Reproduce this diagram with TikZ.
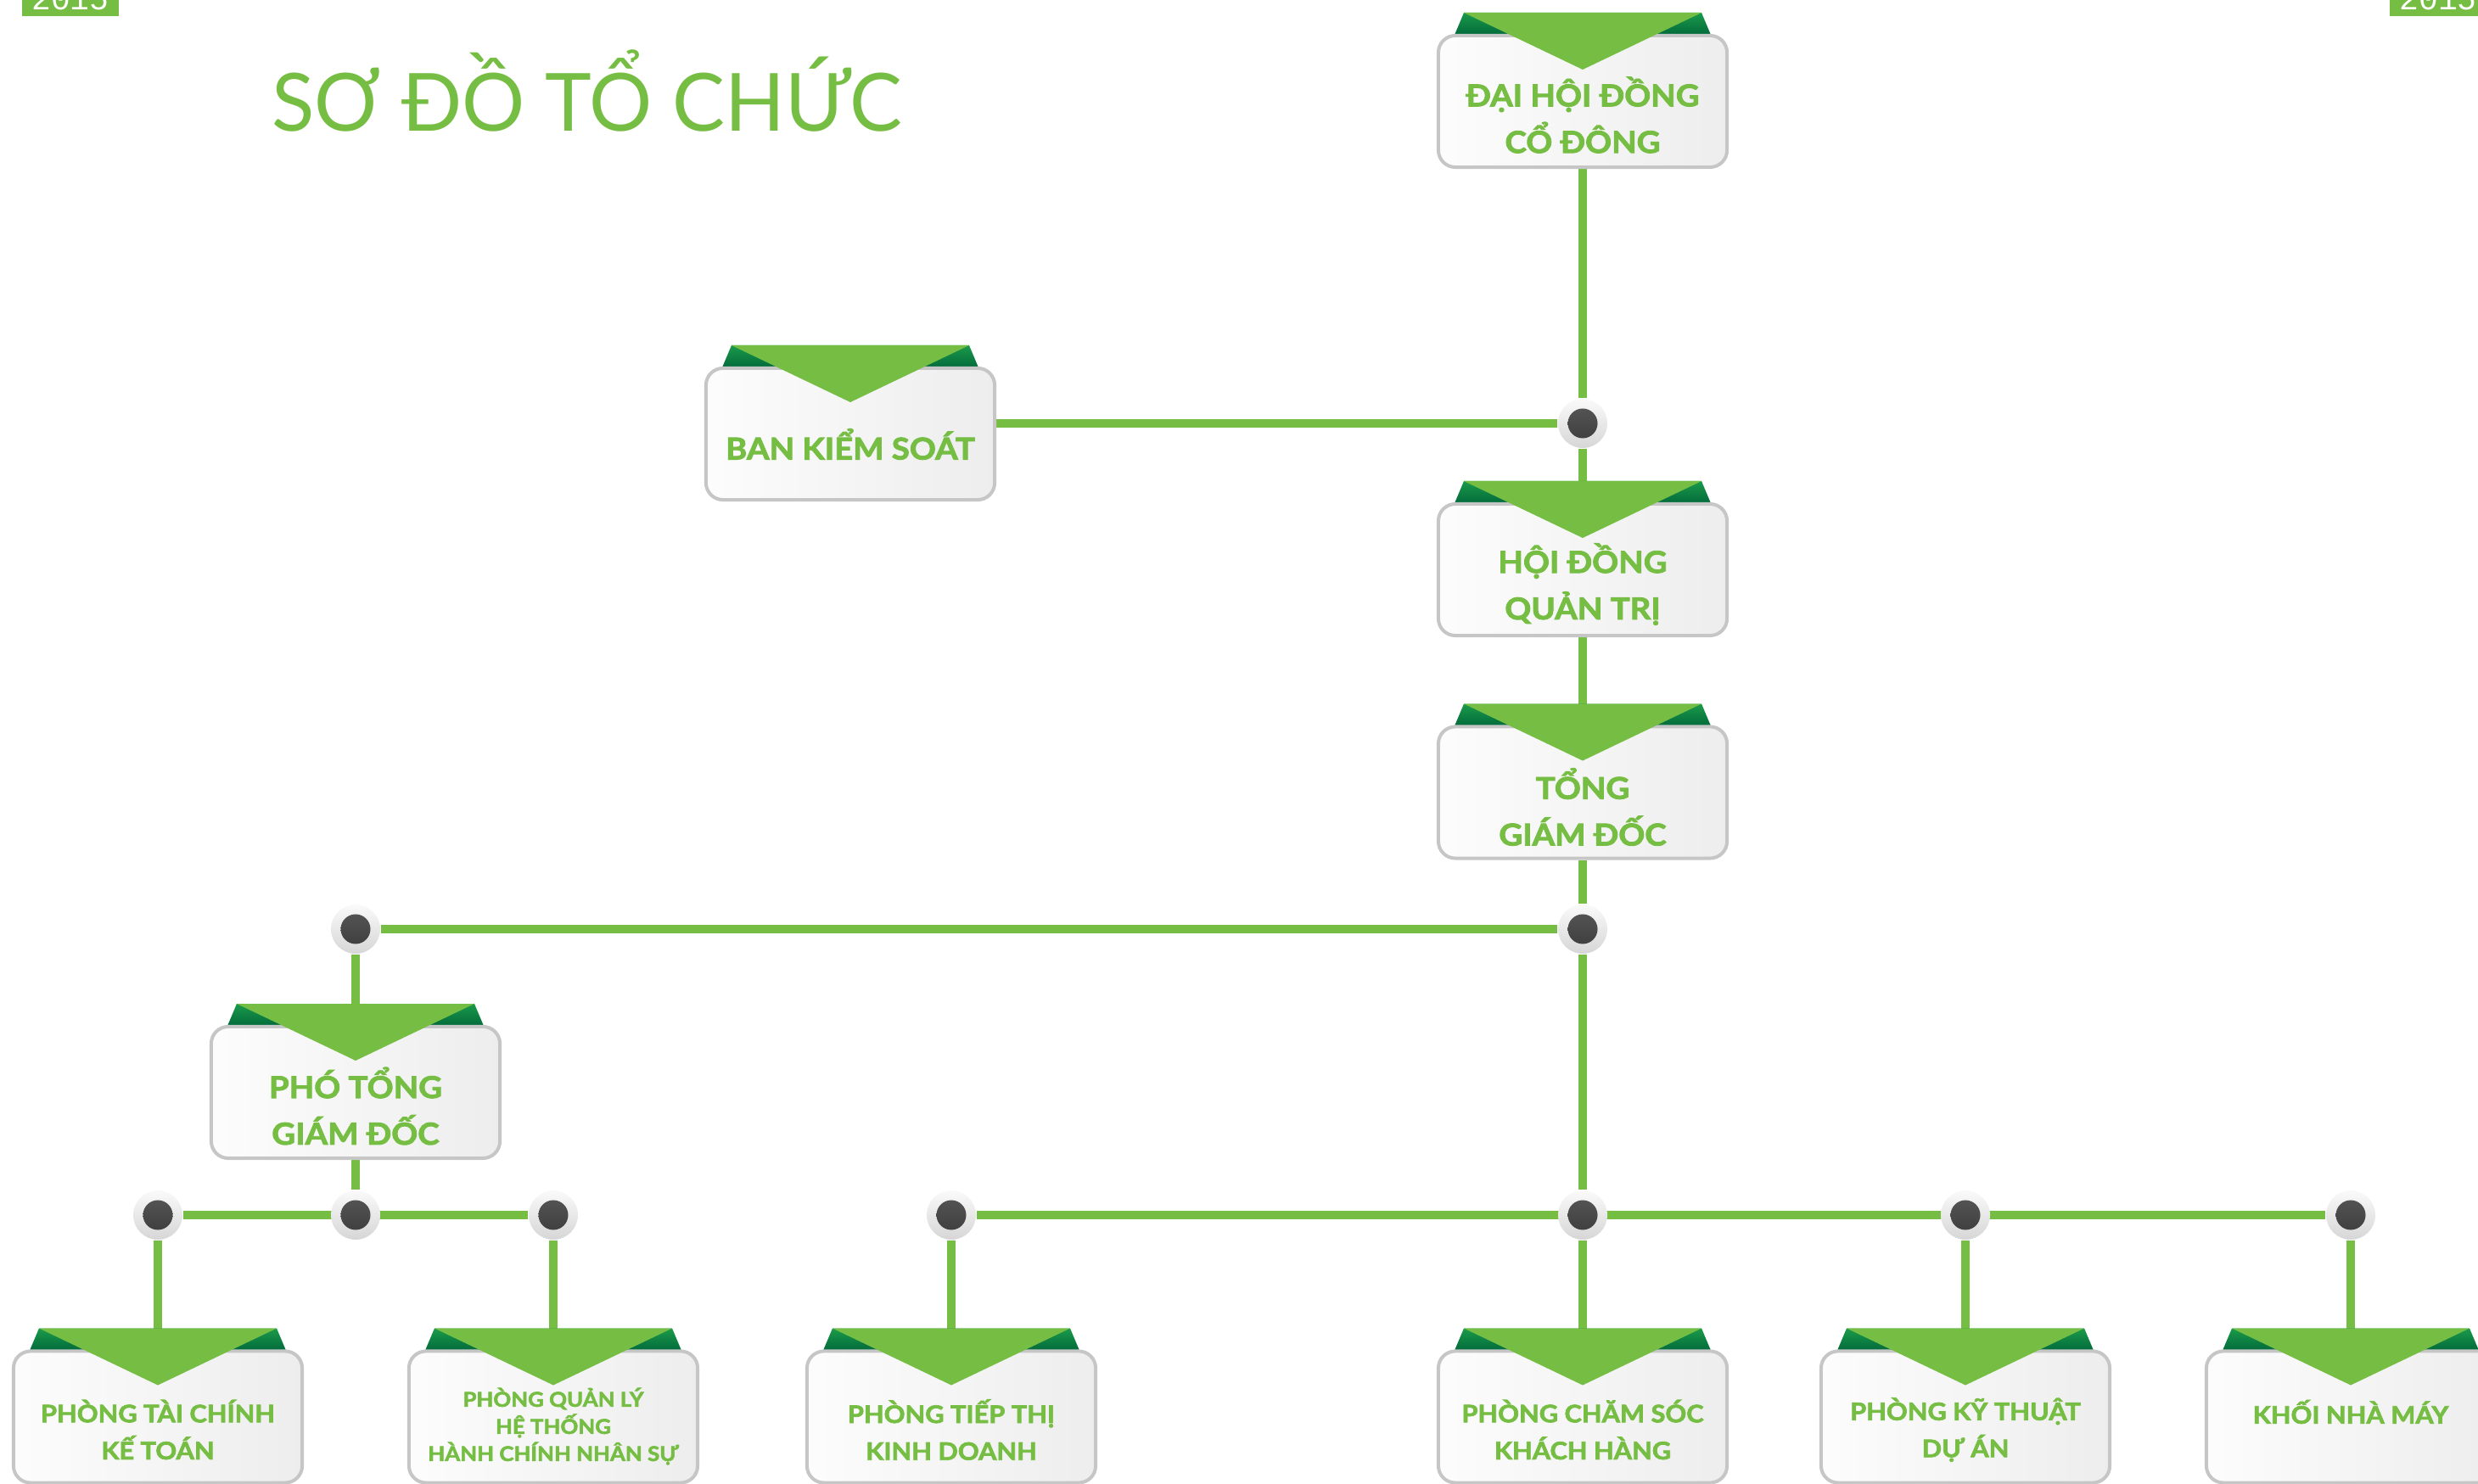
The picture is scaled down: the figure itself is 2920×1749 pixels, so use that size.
\documentclass[tikz,border=0pt]{standalone}
\usepackage{fontspec}
\setmainfont{Lato}
\newfontfamily\titlefont{Lato}[FakeStretch=0.98]
\newfontfamily\cardfont{Lato}[FakeStretch=1.08, BoldFeatures={FakeBold=2.5}]
\newfontfamily\yearfont{Liberation Mono}
\usetikzlibrary{backgrounds}

\definecolor{cardgreen}{HTML}{76BE43}
\definecolor{flaptop}{HTML}{1B9A4A}
\definecolor{flapbot}{HTML}{00663A}

\tikzset{
	card/.style={draw=gray!45, line width=0.04cm, rounded corners=0.2cm,
		left color=gray!2, right color=gray!14, minimum width=3.4cm, minimum height=1.55cm},
	cardtext/.style={font=\cardfont\bfseries\fontsize{10.1}{15.6}\selectfont, text=cardgreen, align=center, inner sep=0pt},
	lowtext/.style={cardtext, font=\cardfont\bfseries\fontsize{8.1}{12.4}\selectfont},
	tinytext/.style={cardtext, font=\cardfont\bfseries\fontsize{6.8}{9.1}\selectfont},
	link/.style={draw=cardgreen, line width=0.1cm},
	junction/.style={circle, minimum size=0.58cm, inner sep=0pt, top color=gray!4, bottom color=gray!32,
		path picture={\shade[top color=gray!70!black, bottom color=gray!45!black] (path picture bounding box.center) circle (0.175cm);}},
	yeartag/.style={fill=cardgreen, text=white, font=\yearfont\fontsize{10.8}{12}\selectfont,
		minimum width=1.14cm, inner xsep=0pt, inner ysep=0.07cm, anchor=south}
}

% style, name, x, y, text shift, text
\newcommand{\card}[6][cardtext]{%
	\shade[top color=flaptop, bottom color=flapbot, shift={(#3,#4)}] (-152,-76) -- (-140,-104.5) -- (140,-104.5) -- (152,-76) -- cycle;
	\node[card] (#2) at (#3,#4) {};
	\fill[cardgreen, shift={(#3,#4)}] (-140,-104.5) -- (140,-104.5) -- (0,-37.5) -- cycle;
	\node[#1] (#2-t) at (#3,#4+#5) {#6};
}

\begin{document}
\begin{tikzpicture}[x=0.01cm, y=-0.01cm]
	\useasboundingbox (0,0) rectangle (2920,1749);

	\node[yeartag] (yl) at (83,20) {2015};
	\node[yeartag] (yr) at (2873,20) {2015};
	\node[anchor=base, text=cardgreen, font=\titlefont\fontsize{26.9}{30}\selectfont, inner sep=0pt] (title) at (692,155) {SƠ ĐỒ TỔ CHỨC};

	\card{dhd}{1865}{119.5}{16}{ĐẠI HỘI ĐỒNG\\CỔ ĐÔNG}
	\card{bks}{1002}{511.5}{12}{BAN KIỂM SOÁT}
	\card{hdqt}{1865}{671.5}{17}{HỘI ĐỒNG\\QUẢN TRỊ}
	\card{tgd}{1865}{934}{17}{TỔNG\\GIÁM ĐỐC}
	\card{ptgd}{419}{1287.5}{16}{PHÓ TỔNG\\GIÁM ĐỐC}

	\card[lowtext]{tckt}{186}{1670}{15}{PHÒNG TÀI CHÍNH\\KẾ TOÁN}
	\card[tinytext]{qlht}{652}{1670}{11}{PHÒNG QUẢN LÝ\\HỆ THỐNG\\HÀNH CHÍNH NHÂN SỰ}
	\card[lowtext]{tt}{1121}{1670}{15}{PHÒNG TIẾP THỊ\\KINH DOANH}
	\card[lowtext]{cskh}{1865}{1670}{15}{PHÒNG CHĂM SÓC\\KHÁCH HÀNG}
	\card[lowtext]{ktda}{2316}{1670}{15}{PHÒNG KỸ THUẬT\\DỰ ÁN}
	\card[lowtext]{nm}{2770}{1670}{-6}{KHỐI NHÀ MÁY}

	\node[junction] (j1) at (1865,499) {};
	\node[junction] (j2) at (419,1095) {};
	\node[junction] (j3) at (1865,1095) {};
	\node[junction] (r1) at (186,1432) {};
	\node[junction] (r2) at (419,1432) {};
	\node[junction] (r3) at (652,1432) {};
	\node[junction] (r4) at (1121,1432) {};
	\node[junction] (r5) at (1865,1432) {};
	\node[junction] (r6) at (2316,1432) {};
	\node[junction] (r7) at (2770,1432) {};

	\begin{pgfonlayer}{background}
		\draw[link] (dhd) -- (j1) -- (hdqt);
		\draw[link] (j1) -- (j1 -| bks.east);
		\draw[link] (hdqt) -- (tgd);
		\draw[link] (tgd) -- (j3) -- (r5) -- (cskh);
		\draw[link] (j2) -- (j3);
		\draw[link] (j2) -- (ptgd) -- (r2);
		\draw[link] (r1) -- (r3);
		\draw[link] (r4) -- (r7);
		\draw[link] (r1) -- (tckt);
		\draw[link] (r3) -- (qlht);
		\draw[link] (r4) -- (tt);
		\draw[link] (r6) -- (ktda);
		\draw[link] (r7) -- (nm);
	\end{pgfonlayer}
\end{tikzpicture}
\end{document}
